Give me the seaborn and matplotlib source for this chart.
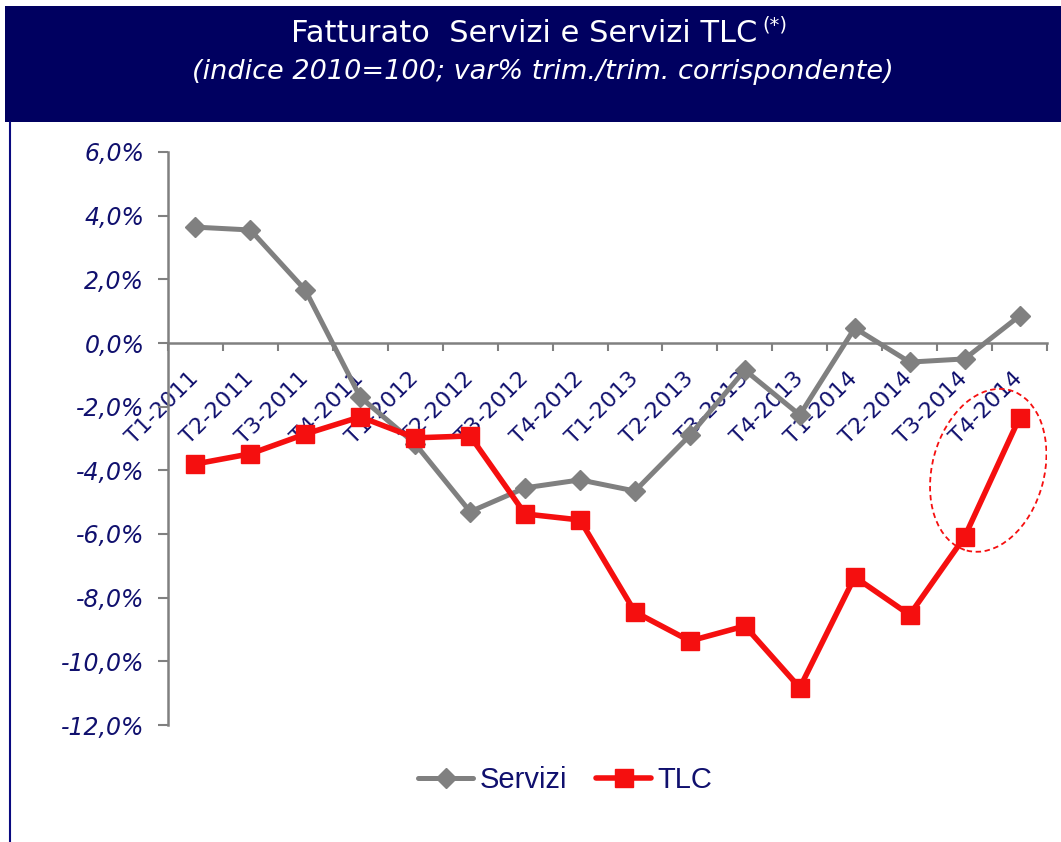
import numpy as np
import pandas as pd
import matplotlib
matplotlib.use("Agg")
import matplotlib.pyplot as plt
import matplotlib.transforms as mtransforms
from matplotlib.patches import Ellipse, Rectangle
from matplotlib.lines import Line2D
from matplotlib.ticker import FixedLocator, FuncFormatter
import seaborn as sns

# data (var% trim./trim. corrispondente)
quarters = ["T1-2011", "T2-2011", "T3-2011", "T4-2011",
            "T1-2012", "T2-2012", "T3-2012", "T4-2012",
            "T1-2013", "T2-2013", "T3-2013", "T4-2013",
            "T1-2014", "T2-2014", "T3-2014", "T4-2014"]
servizi = [3.64, 3.55, 1.66, -1.70, -3.17, -5.30, -4.55, -4.30,
           -4.65, -2.90, -0.85, -2.26, 0.47, -0.60, -0.50, 0.85]
tlc = [-3.80, -3.48, -2.86, -2.32, -2.98, -2.92, -5.37, -5.56,
       -8.45, -9.36, -8.89, -10.83, -7.35, -8.54, -6.09, -2.35]

sns.set_theme(style="white")
plt.rcParams["font.family"] = ["DejaVu Sans"]

NAVY = "#10106E"
BANNER = "#000060"
GREY = "#808080"
RED = "#F50F0F"

W, H = 1061, 842
fig = plt.figure(figsize=(W / 100, H / 100), dpi=100)
fig.patch.set_facecolor("white")
ax = fig.add_axes([168 / W, 1 - 725 / H, (1047 - 168) / W, (725 - 152) / H])

df = pd.DataFrame({"pos": np.arange(len(quarters)), "Servizi": servizi, "TLC": tlc})
sns.lineplot(data=df, x="pos", y="Servizi", ax=ax, color=GREY, lw=3.6,
             marker="D", ms=10, mec=GREY, mew=1, label="Servizi", zorder=3)
sns.lineplot(data=df, x="pos", y="TLC", ax=ax, color=RED, lw=4,
             marker="s", ms=13, mec=RED, mew=1, label="TLC", zorder=4)

ax.set_xlim(-0.5, len(quarters) - 0.5)
ax.set_ylim(-12, 6)
ax.set_xlabel("")
ax.set_ylabel("")

for s in ["top", "right"]:
    ax.spines[s].set_visible(False)
ax.spines["left"].set_color(GREY)
ax.spines["left"].set_linewidth(1.8)
ax.spines["bottom"].set_position(("data", 0))
ax.spines["bottom"].set_color(GREY)
ax.spines["bottom"].set_linewidth(1.8)

ax.set_yticks(np.arange(-12, 7, 2))
ax.yaxis.set_major_formatter(FuncFormatter(lambda v, p: f"{v:.1f}%".replace(".", ",")))
ax.tick_params(axis="y", direction="out", length=7, width=1.5, color=GREY,
               labelcolor=NAVY, labelsize=17, pad=10, left=True)
for t in ax.get_yticklabels():
    t.set_fontstyle("italic")

ax.set_xticks(np.arange(len(quarters)))
ax.set_xticklabels(quarters, rotation=45, ha="right", va="center",
                   rotation_mode="anchor", color=NAVY, fontsize=16)
ax.xaxis.set_minor_locator(FixedLocator(np.arange(len(quarters) + 1) - 0.5))
ax.tick_params(axis="x", which="major", length=0, pad=23)
ax.tick_params(axis="x", which="minor", direction="out", length=6, width=1.5,
               color=GREY, bottom=True)

# dashed ellipse highlighting the last two TLC quarters
trans = fig.dpi_scale_trans + mtransforms.ScaledTranslation(14.43, -4.0, ax.transData)
ax.add_patch(Ellipse((0, 0), 1.12, 1.66, angle=-15, transform=trans, fill=False,
                     edgecolor=RED, lw=1.3, ls=(0, (3, 2)), zorder=5))

# legend below
handles, labels = ax.get_legend_handles_labels()
ax.get_legend().remove()
fig.legend(handles, labels, loc="center", bbox_to_anchor=(565 / W, 1 - 780 / H),
           ncol=2, frameon=False, labelcolor=NAVY, handlelength=1.9,
           handletextpad=0.2, columnspacing=1.0,
           prop={"family": ["Liberation Sans", "DejaVu Sans"], "size": 21})

# title banner
fig.add_artist(Rectangle((5 / W, 1 - 122 / H), 1 - 5 / W, 116 / H,
                         transform=fig.transFigure, facecolor=BANNER,
                         edgecolor="none", zorder=0))
fig.add_artist(Line2D([10 / W, 10 / W], [0, 1 - 122 / H], transform=fig.transFigure,
                      color="#0A0A80", lw=1.5))
title = fig.text(524 / W, 1 - 34 / H, "Fatturato  Servizi e Servizi TLC",
                 color="white", fontsize=22, ha="center", va="center")
ax.annotate("(*)", xy=(1, 1), xycoords=title, xytext=(4, 3),
            textcoords="offset points", ha="left", va="top",
            color="white", fontsize=14, annotation_clip=False)
fig.text(543 / W, 1 - 72 / H, "(indice 2010=100; var% trim./trim. corrispondente)",
         color="white", fontsize=19.5, style="italic",
         ha="center", va="center")

fig.savefig("out.png", dpi=100)
